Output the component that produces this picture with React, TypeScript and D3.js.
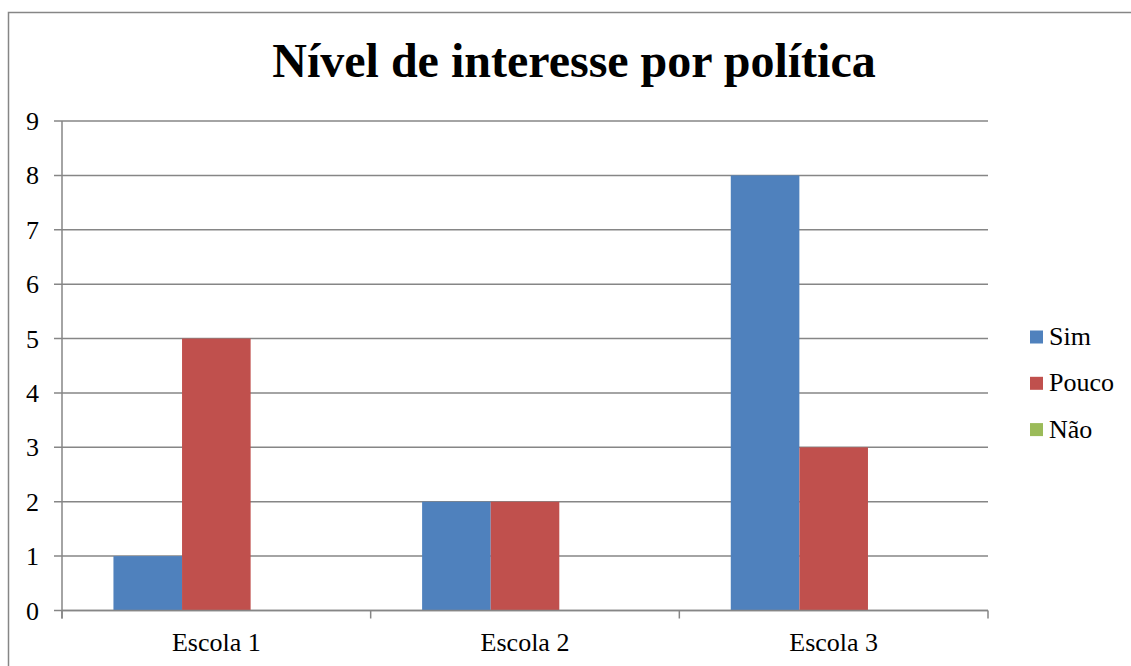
import React from "react";
import * as d3 from "d3";

const categories = ["Escola 1", "Escola 2", "Escola 3"];
const seriesNames = ["Sim", "Pouco", "Não"];
const sim = [1, 2, 8];
const pouco = [5, 2, 3];
const nao = [0, 0, 0];
const yTicks = [0, 1, 2, 3, 4, 5, 6, 7, 8, 9];
const colors = ["#4F81BD", "#C0504D", "#9BBB59"];
const title = "Nível de interesse por política";

export default function App() {
  const W = 1131, H = 666;
  const left = 62, right = 988, top = 121, bottom = 610.5;
  const fontStyle = { fontFamily: '"Liberation Serif"' };
  const grid = "#868686";
  const series = [sim, pouco, nao];

  const x = d3.scaleBand<string>().domain(categories).range([left, right]).paddingInner(0).paddingOuter(0);
  const bw = x.bandwidth() / 4.5;
  const y = d3.scaleLinear().domain([0, 9]).range([bottom, top]);

  return (
    <svg width={W} height={H} style={{ position: "absolute", left: 0, top: 0, background: "#fff" }}>
      <rect x={8.5} y={12.5} width={1200} height={800} fill="#fff" stroke={grid} strokeWidth={1.5} />
      <text x={574} y={77} textAnchor="middle" style={fontStyle} fontWeight="bold" fontSize={48} fill="#000">{title}</text>
      {yTicks.map((t) => (
        <g key={t}>
          <line x1={54} x2={right} y1={y(t)} y2={y(t)} stroke={grid} strokeWidth={1.5} />
          <text x={39} y={y(t)} dy="0.35em" textAnchor="end" style={fontStyle} fontSize={26} fill="#000">{t}</text>
        </g>
      ))}
      {series.map((vals, si) =>
        vals.map((v, ci) => {
          const x0 = x(categories[ci])! + 0.75 * bw + si * bw;
          return v > 0 ? (
            <rect key={`${si}-${ci}`} x={x0} y={y(v)} width={bw} height={y(0) - y(v)} fill={colors[si]} />
          ) : null;
        })
      )}
      <line x1={left} x2={left} y1={top} y2={bottom + 8} stroke={grid} strokeWidth={1.5} />
      <line x1={left} x2={right} y1={bottom} y2={bottom} stroke={grid} strokeWidth={1.5} />
      {[0, 1, 2, 3].map((i) => {
        const xx = left + i * x.step();
        return <line key={i} x1={xx} x2={xx} y1={bottom} y2={bottom + 8} stroke={grid} strokeWidth={1.5} />;
      })}
      {categories.map((c) => (
        <text key={c} x={x(c)! + x.bandwidth() / 2} y={651} textAnchor="middle" style={fontStyle} fontSize={26} fill="#000">{c}</text>
      ))}
      {seriesNames.map((s, i) => {
        const cy = 337 + i * 46.3;
        return (
          <g key={s}>
            <rect x={1030} y={cy - 6.5} width={13} height={13} fill={colors[i]} />
            <text x={1049} y={cy + 8} style={fontStyle} fontSize={26} fill="#000">{s}</text>
          </g>
        );
      })}
    </svg>
  );
}
